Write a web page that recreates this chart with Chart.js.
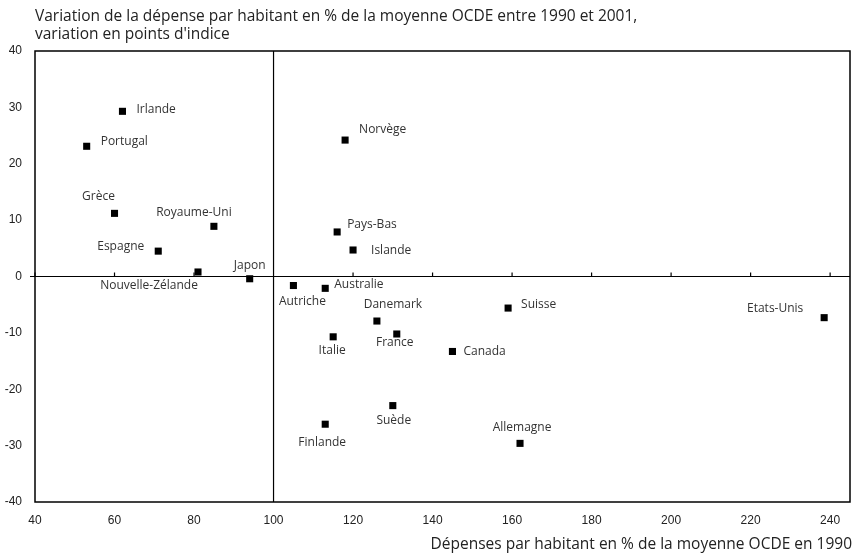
<!DOCTYPE html>
<html>
<head>
<meta charset="utf-8">
<script src="https://cdn.jsdelivr.net/npm/chart.js@4"></script>
<style>
  html, body { margin: 0; padding: 0; background: #fff; }
  #wrap { position: relative; width: 855px; height: 558px; }
  .title { position: absolute; font-family: "Open Sans", Lato, sans-serif; font-size: 15.5px; color: #222; line-height: 18px; white-space: nowrap; }
</style>
</head>
<body>
<div id="wrap">
  <div class="title" style="left:35px; top:6px;">Variation de la dépense par habitant en % de la moyenne OCDE entre 1990 et 2001,<br>variation en points d'indice</div>
  <div class="title" style="right:3px; top:534px;">Dépenses par habitant en % de la moyenne OCDE en 1990</div>
  <canvas id="chart" width="855" height="558"></canvas>
</div>
<script>
// Country names
const countries = ['Irlande', 'Portugal', 'Grèce', 'Royaume-Uni', 'Espagne', 'Nouvelle-Zélande', 'Japon',
  'Norvège', 'Pays-Bas', 'Islande', 'Autriche', 'Australie', 'Danemark', 'France', 'Italie',
  'Suède', 'Finlande', 'Suisse', 'Canada', 'Allemagne', 'Etats-Unis'];
// Spending per capita in % of OECD average, 1990
const spending1990 = [62, 53, 60, 85, 71, 81, 94, 118, 116, 120, 105, 113, 126, 131, 115, 130, 113, 159, 145, 162, 238.5];
// Change 1990-2001 in index points
const change = [29.3, 23.1, 11.2, 8.9, 4.5, 0.8, -0.4, 24.2, 7.9, 4.7, -1.6, -2.1, -7.9, -10.2, -10.7, -22.9, -26.2, -5.6, -13.3, -29.6, -7.3];
const xTicks = [40, 60, 80, 100, 120, 140, 160, 180, 200, 220, 240];
const yTicks = [-40, -30, -20, -10, 0, 10, 20, 30, 40];

// label placement relative to the marker: [dx, dy, align]
const labelPos = [
  [14, -2, 'left'], [14, -5, 'left'], [-16, -17, 'center'], [-20, -14, 'center'], [-14, -5, 'right'],
  [-49, 14, 'center'], [0, -13, 'center'], [14, -10, 'left'], [10, -7, 'left'], [18, 1, 'left'],
  [9, 16, 'center'], [9, -4, 'left'], [16, -16, 'center'], [-2, 9, 'center'], [-1, 14, 'center'],
  [1, 15, 'center'], [-3, 18, 'center'], [13, -3, 'left'], [11, 0, 'left'], [2, -16, 'center'], [-49, -9, 'center']
];

const points = countries.map((c, i) => ({ x: spending1990[i], y: change[i] }));

// frame, cross lines, tick marks on the zero line and point labels
const decorPlugin = {
  id: 'decor',
  beforeDatasetsDraw(chart) {
    const { ctx, chartArea: a, scales: { x, y } } = chart;
    ctx.save();
    ctx.strokeStyle = '#000';
    ctx.lineWidth = 1.5;
    ctx.strokeRect(a.left, a.top, a.right - a.left, a.bottom - a.top);
    const x100 = x.getPixelForValue(100);
    const y0 = y.getPixelForValue(0);
    ctx.lineWidth = 1.2;
    ctx.beginPath();
    ctx.moveTo(x100, a.top); ctx.lineTo(x100, a.bottom);
    ctx.moveTo(a.left, y0); ctx.lineTo(a.right, y0);
    xTicks.forEach(v => {
      const px = x.getPixelForValue(v);
      ctx.moveTo(px, y0); ctx.lineTo(px, y0 - 4);
    });
    ctx.moveTo(a.left - 5, y0); ctx.lineTo(a.left, y0);
    ctx.stroke();
    ctx.restore();
  },
  afterDatasetsDraw(chart) {
    const { ctx } = chart;
    const meta = chart.getDatasetMeta(0);
    ctx.save();
    ctx.font = '12px "Open Sans", Lato, sans-serif';
    ctx.fillStyle = '#333';
    ctx.textBaseline = 'middle';
    meta.data.forEach((pt, i) => {
      const [dx, dy, align] = labelPos[i];
      ctx.textAlign = align;
      ctx.fillText(countries[i], pt.x + dx, pt.y + dy);
    });
    ctx.restore();
  }
};

new Chart(document.getElementById('chart').getContext('2d'), {
  type: 'scatter',
  data: {
    datasets: [{
      data: points,
      pointStyle: 'rect',
      pointRadius: 5,
      pointHoverRadius: 5,
      borderWidth: 0,
      backgroundColor: '#000'
    }]
  },
  options: {
    responsive: false,
    animation: false,
    layout: { padding: { top: 51, right: 3, left: 0, bottom: 0 } },
    plugins: { legend: { display: false }, tooltip: { enabled: false } },
    scales: {
      x: {
        type: 'linear',
        min: 40,
        max: 245,
        grid: { display: false },
        border: { display: false },
        afterBuildTicks: s => { s.ticks = xTicks.map(v => ({ value: v })); },
        afterFit: s => { s.height = 56; },
        ticks: { color: '#222', padding: 3, maxRotation: 0, font: { family: '"Liberation Sans", Arial, sans-serif', size: 12 } }
      },
      y: {
        type: 'linear',
        min: -40,
        max: 40,
        grid: { display: false },
        border: { display: false },
        afterBuildTicks: s => { s.ticks = yTicks.map(v => ({ value: v })); },
        afterFit: s => { s.width = 35; },
        ticks: { color: '#222', padding: 5, font: { family: '"Liberation Sans", Arial, sans-serif', size: 12 } }
      }
    }
  },
  plugins: [decorPlugin]
});
</script>
</body>
</html>
